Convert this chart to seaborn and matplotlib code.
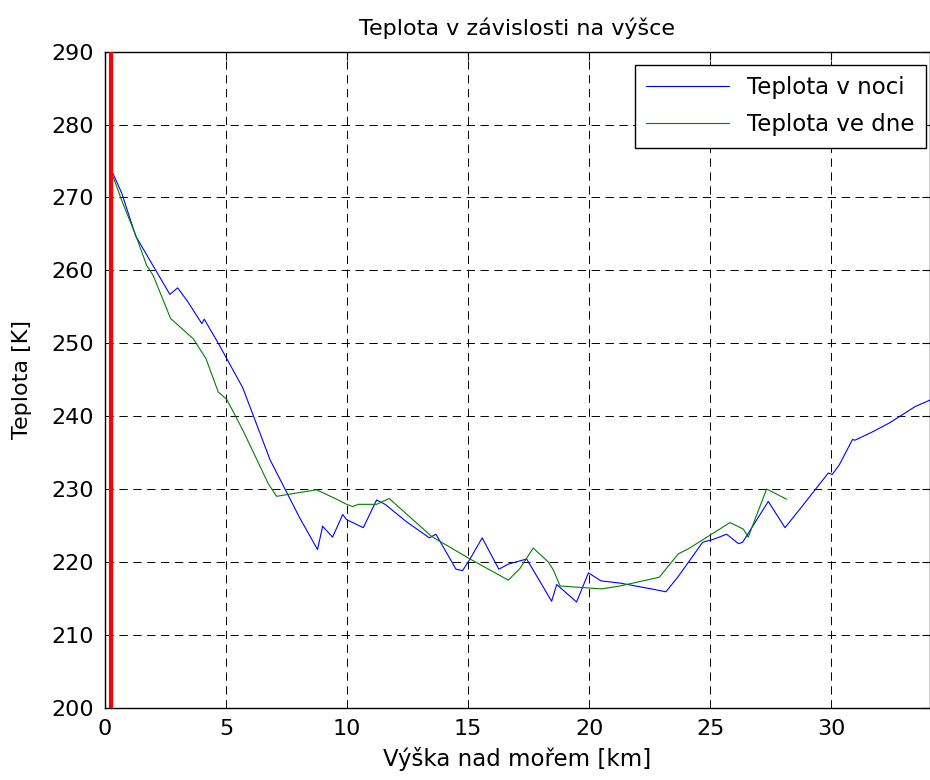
import matplotlib
matplotlib.use("Agg")
import matplotlib.pyplot as plt
import seaborn as sns

# hodnoty
night_km = [0.33, 0.69, 1.27, 2.68, 3.0, 3.40, 4.0, 4.1, 4.68, 5.69, 6.82, 8.05, 8.78, 8.99,
            9.4, 9.82, 9.98, 10.67, 11.22, 11.57, 12.46, 13.4, 13.67, 14.5, 14.77, 15.08,
            15.58, 16.27, 16.66, 17.42, 18.45, 18.66, 19.48, 19.97, 20.49, 21.27, 22.72,
            23.17, 23.68, 24.69, 25.13, 25.68, 26.17, 26.34, 27.4, 28.09, 28.67, 29.88,
            30.04, 30.33, 30.88, 30.98, 31.74, 32.42, 33.46, 34.08]
night_K = [273.3, 270.6, 264.7, 256.7, 257.6, 255.8, 252.7, 253.3, 250.0, 243.9, 234.0, 226.0,
           221.7, 224.9, 223.4, 226.5, 225.8, 224.7, 228.5, 227.9, 225.5, 223.3, 223.8, 219.0,
           218.8, 220.4, 223.3, 219.0, 219.7, 220.4, 214.6, 216.9, 214.5, 218.5, 217.4, 217.1,
           216.2, 215.9, 218.0, 222.7, 223.1, 223.8, 222.5, 222.7, 228.3, 224.7, 227.1, 232.2,
           232.0, 233.3, 236.8, 236.7, 237.9, 239.1, 241.3, 242.2]

day_km = [0.34, 0.69, 1.27, 1.72, 1.99, 2.71, 3.65, 4.17, 4.68, 5.03, 5.69, 6.75, 7.09, 8.74,
          9.57, 9.98, 10.23, 10.47, 11.22, 11.74, 13.49, 15.08, 16.66, 17.14, 17.69, 18.31,
          18.52, 18.8, 20.52, 21.27, 22.9, 23.68, 24.1, 25.82, 26.37, 26.57, 27.33, 28.16]
day_K = [272.8, 269.6, 264.8, 260.7, 259.3, 253.4, 250.6, 247.9, 243.3, 242.3, 238.1, 230.7,
         229.0, 229.9, 228.6, 227.9, 227.6, 227.9, 227.9, 228.7, 223.5, 220.4, 217.5, 219.1,
         221.9, 220.0, 218.9, 216.7, 216.3, 216.7, 217.9, 221.1, 221.8, 225.4, 224.5, 223.4,
         230.0, 228.6]

ground_km = 0.25
x_ticks = [0, 5, 10, 15, 20, 25, 30]
y_ticks = [200, 210, 220, 230, 240, 250, 260, 270, 280, 290]

sns.set_style("white")
plt.rcParams['font.family'] = ['DejaVu Sans']
plt.rcParams['lines.scale_dashes'] = False
plt.rcParams['text.color'] = 'black'
plt.rcParams['axes.labelcolor'] = 'black'
plt.rcParams['xtick.color'] = 'black'
plt.rcParams['ytick.color'] = 'black'

fig = plt.figure(figsize=(9.3, 7.8), dpi=100)
ax = fig.add_axes([0.1129, 0.0927, 1.0 - 0.1129, 0.9337 - 0.0927])

ax.axvline(ground_km, color='#ff0000', linewidth=3, zorder=3)
sns.lineplot(x=night_km, y=night_K, ax=ax, color='#0000ff', linewidth=0.8,
             estimator=None, sort=False, label='Teplota v noci')
sns.lineplot(x=day_km, y=day_K, ax=ax, color='#008000', linewidth=0.8,
             estimator=None, sort=False, label='Teplota ve dne')

ax.set_xlim(0, 34.08)
ax.set_ylim(200, 290)
ax.set_xticks(x_ticks)
ax.set_yticks(y_ticks)
ax.grid(True, color='black', linestyle=(0, (6, 4)), linewidth=0.7)
ax.set_axisbelow(True)
ax.tick_params(direction='in', length=6, top=True, right=True, labelsize=16, pad=8)
for s in ax.spines.values():
    s.set_color('black')
    s.set_linewidth(1.0)

ax.set_title('Teplota v závislosti na výšce', fontsize=16, pad=12)
ax.set_xlabel('Výška nad mořem [km]', fontsize=16.5, labelpad=6)
ax.set_ylabel('Teplota [K]', fontsize=16, labelpad=14)

leg = ax.legend(loc='upper right', bbox_to_anchor=(0.995, 0.98), fontsize=16.5,
                frameon=True, fancybox=False, edgecolor='black', framealpha=1,
                handlelength=3.6, labelspacing=0.6, borderpad=0.5, borderaxespad=0.0)
leg.get_frame().set_linewidth(1.0)

fig.savefig('out.png', dpi=100)
